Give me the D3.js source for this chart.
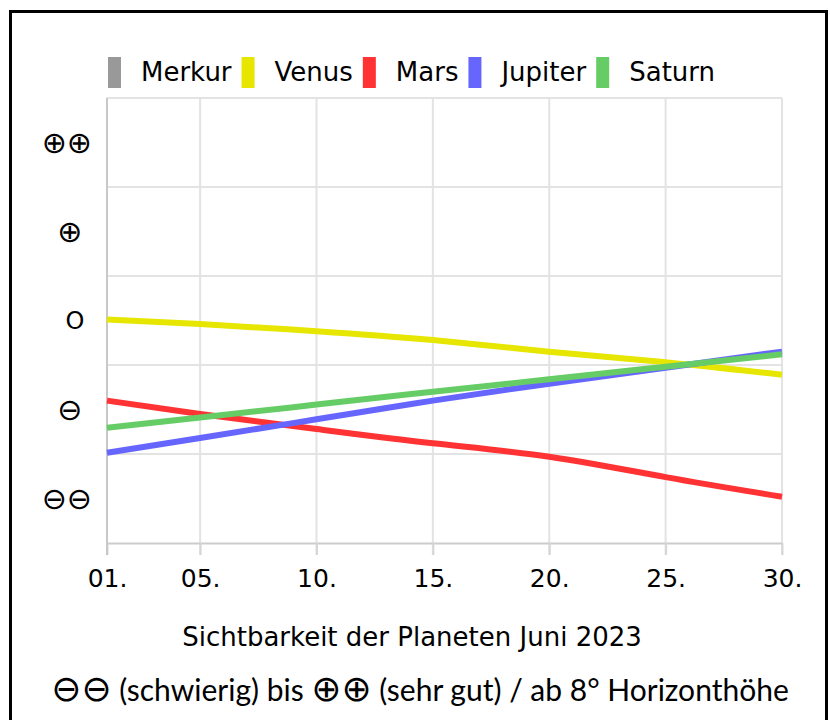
<!DOCTYPE html>
<html><head><meta charset="utf-8">
<script src="https://cdn.jsdelivr.net/npm/d3@7"></script>
<style>body{margin:0;background:#fff}svg{display:block}</style>
</head><body>
<svg id="chart" width="830" height="720"></svg>
<script>
const planets = ["Merkur", "Venus", "Mars", "Jupiter", "Saturn"];
const colors = ["#999999", "#e6e600", "#ff3333", "#6666ff", "#66cc66"];
const days = [1, 5, 10, 15, 20, 25, 30];
const dayLabels = ["01.", "05.", "10.", "15.", "20.", "25.", "30."];
const levelValues = [-2, -1, 0, 1, 2];
const levelLabels = ["⊖⊖", "⊖\u00a0", "O\u00a0", "⊕\u00a0", "⊕⊕"];
const merkur = [];
const venus = [0.01, -0.04, -0.12, -0.22, -0.35, -0.47, -0.61];
const mars = [-0.90, -1.05, -1.22, -1.38, -1.53, -1.76, -1.98];
const jupiter = [-1.485, -1.32, -1.11, -0.90, -0.71, -0.53, -0.35];
const saturn = [-1.205, -1.09, -0.945, -0.80, -0.66, -0.52, -0.38];
const xTitle = "Sichtbarkeit der Planeten Juni 2023";
const subTitle = ["⊖⊖", " (schwierig) bis ", "⊕⊕", " (sehr gut) / ab 8° Horizonthöhe"];

const series = [merkur, venus, mars, jupiter, saturn];
const svg = d3.select("#chart");
const font = "'DejaVu Sans', Verdana, sans-serif";

svg.append("rect").attr("x", 10.5).attr("y", 11.5).attr("width", 816).attr("height", 740)
  .attr("fill", "#fff").attr("stroke", "#000").attr("stroke-width", 3);

const x = d3.scaleLinear().domain([1, 30]).range([107, 782]);
const y = d3.scaleLinear().domain([-2.5, 2.5]).range([543, 98]);

// grid
const g = svg.append("g");
g.selectAll("line.v").data(days.slice(1)).join("line")
  .attr("x1", d => x(d)).attr("x2", d => x(d)).attr("y1", y(2.5)).attr("y2", y(-2.5) + 12)
  .attr("stroke", "#e3e3e3").attr("stroke-width", 2);
g.selectAll("line.h").data([-1.5, -0.5, 0.5, 1.5, 2.5]).join("line")
  .attr("x1", x(1)).attr("x2", x(30)).attr("y1", d => y(d)).attr("y2", d => y(d))
  .attr("stroke", "#e3e3e3").attr("stroke-width", 2);

// x axis
const xAxis = svg.append("g").attr("transform", `translate(0,${y(-2.5)})`)
  .call(d3.axisBottom(x).tickValues(days).tickFormat((d, i) => dayLabels[i]).tickSize(12).tickPadding(14).tickSizeOuter(0));
xAxis.select(".domain").attr("stroke", "#cccccc").attr("stroke-width", 2);
xAxis.selectAll(".tick line").attr("stroke", "#d6d6d6").attr("stroke-width", 2);
xAxis.selectAll("text").attr("font-family", font).attr("font-size", 25).attr("fill", "#000");

// y axis
const yAxis = svg.append("g").attr("transform", `translate(${x(1)},0)`)
  .call(d3.axisLeft(y).tickValues(levelValues).tickFormat((d, i) => levelLabels[i]).tickSize(0).tickPadding(15).tickSizeOuter(0));
yAxis.select(".domain").remove();
yAxis.selectAll("text").attr("font-family", font)
  .attr("font-size", (d, i) => levelLabels[i].startsWith("O") ? 24 : 30).attr("fill", "#000");
svg.append("line").attr("x1", x(1)).attr("x2", x(1)).attr("y1", y(2.5)).attr("y2", y(-2.5) + 12)
  .attr("stroke", "#c8c8c8").attr("stroke-width", 2);

// lines
const line = d3.line().x((d, i) => x(days[i])).y(d => y(d)).curve(d3.curveNatural);
series.forEach((s, k) => {
  if (!s.length) return;
  svg.append("path").datum(s).attr("d", line).attr("fill", "none")
    .attr("stroke", colors[k]).attr("stroke-width", 6);
});

// legend
const leg = svg.append("g");
let lx = 108;
planets.forEach((p, k) => {
  leg.append("rect").attr("x", lx).attr("y", 57).attr("width", 13).attr("height", 31).attr("fill", colors[k]);
  const t = leg.append("text").attr("x", lx + 33).attr("y", 72).attr("dy", "0.35em")
    .attr("font-family", font).attr("font-size", 26).text(p);
  lx = lx + 33 + t.node().getComputedTextLength() + 10;
});

svg.append("text").attr("x", 412).attr("y", 637).attr("dy", "0.35em").attr("text-anchor", "middle")
  .attr("font-family", font).attr("font-size", 26).text(xTitle);
const sub = svg.append("text").attr("x", 420).attr("y", 690).attr("dy", "0.35em").attr("text-anchor", "middle")
  .attr("font-family", "Lato, 'Open Sans', sans-serif").attr("font-size", 30);
subTitle.forEach((s, i) => {
  sub.append("tspan").text(s)
    .attr("font-family", i % 2 === 0 ? font : null)
    .attr("font-size", i % 2 === 0 ? 36 : null);
});
</script>
</body></html>
